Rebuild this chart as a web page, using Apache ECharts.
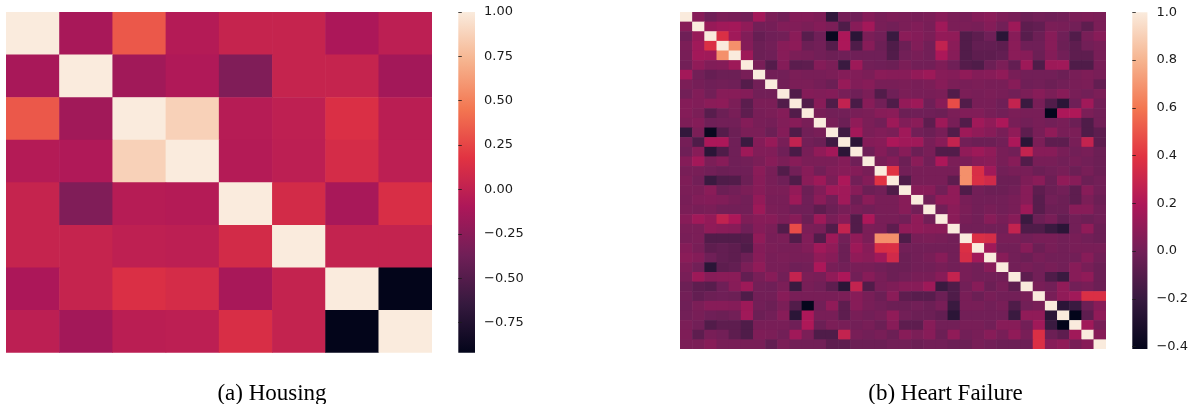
<!DOCTYPE html>
<html>
<head>
<meta charset="utf-8">
<script src="https://cdn.jsdelivr.net/npm/echarts@6/dist/echarts.min.js"></script>
<style>
  html, body { margin: 0; padding: 0; background: #ffffff; }
  #chart { width: 1191px; height: 404px; }
</style>
</head>
<body>
<div id="chart"></div>
<script>
// ---- Housing: full 8x8 feature correlation matrix ----
const housingFeatures = [0, 1, 2, 3, 4, 5, 6, 7];
const housingCorr = [
  [ 1.00, -0.12,  0.33, -0.06,  0.03,  0.03, -0.10, -0.02],
  [-0.12,  1.00, -0.15, -0.08, -0.30,  0.03,  0.03, -0.14],
  [ 0.33, -0.15,  1.00,  0.87, -0.05, -0.01,  0.14, -0.03],
  [-0.06, -0.08,  0.87,  1.00, -0.06, -0.02,  0.11, -0.02],
  [ 0.03, -0.30, -0.05, -0.06,  1.00,  0.10, -0.12,  0.13],
  [ 0.03,  0.03, -0.01, -0.02,  0.10,  1.00,  0.02,  0.02],
  [-0.10,  0.03,  0.14,  0.11, -0.12,  0.02,  1.00, -0.92],
  [-0.02, -0.14, -0.03, -0.02,  0.13,  0.02, -0.92,  1.00]
];
const housingTicks = [1.00, 0.75, 0.50, 0.25, 0.00, -0.25, -0.50, -0.75];

// ---- Heart Failure: 35 features, upper triangle (row i holds columns i+1 .. 34) ----
const heartFeatureCount = 35;
const heartUpper = [
  [0.07,-0.01,0.03,0.02,0.00,0.16,0.03,0.00,0.06,0.06,0.04,-0.22,0.01,-0.01,0.06,0.02,0.04,0.03,0.02,0.03,0.07,0.03,0.02,0.06,0.08,0.04,0.02,-0.02,0.00,-0.01,0.00,0.03,0.04,0.03],
  [0.12,0.15,0.16,0.10,0.00,0.01,0.05,0.05,0.03,0.06,0.03,-0.12,0.07,0.16,0.02,0.00,0.03,0.05,0.02,0.15,0.03,0.03,0.02,0.06,0.00,0.14,-0.07,-0.05,0.03,0.02,0.00,-0.07,0.03],
  [0.37,0.15,0.05,-0.04,-0.01,0.00,0.08,-0.09,-0.01,-0.38,0.19,-0.25,0.03,0.00,-0.19,0.08,0.06,0.03,0.11,0.10,-0.11,-0.07,-0.01,-0.25,0.07,-0.09,-0.02,0.07,-0.01,-0.11,0.02,0.07],
  [0.68,0.06,-0.02,0.00,0.07,0.09,-0.02,0.00,-0.10,0.19,-0.12,0.07,-0.02,-0.12,-0.02,0.05,0.00,0.27,0.08,-0.11,-0.05,-0.05,-0.07,0.08,-0.01,-0.01,0.07,-0.02,-0.07,0.00,0.02],
  [0.14,-0.02,-0.01,0.07,0.03,0.02,0.00,-0.02,-0.01,-0.01,-0.01,-0.01,-0.11,0.00,0.02,0.00,0.19,0.07,-0.11,-0.07,-0.07,-0.05,0.08,0.07,-0.02,0.06,0.00,-0.07,-0.07,0.02],
  [0.02,-0.10,0.06,-0.08,-0.07,0.06,0.03,-0.19,0.14,0.00,-0.01,-0.02,0.03,0.00,0.00,0.04,-0.01,-0.10,-0.12,-0.02,0.03,-0.05,0.14,-0.12,0.14,0.15,-0.12,-0.12,0.02],
  [0.00,0.00,0.03,0.02,0.02,0.03,0.06,0.05,0.03,0.08,0.07,0.07,0.11,0.14,0.07,0.06,0.10,0.06,0.07,0.10,0.02,0.00,0.00,0.00,-0.02,0.02,0.04,0.02],
  [0.00,0.03,0.03,0.01,-0.02,0.12,0.05,0.07,0.02,0.02,0.03,0.02,0.03,0.07,0.03,0.02,0.03,0.02,0.02,0.07,-0.01,0.00,-0.02,0.00,0.02,0.03,-0.05],
  [-0.11,0.06,0.05,0.06,0.02,-0.01,0.03,-0.11,-0.01,0.03,0.02,0.02,0.03,-0.11,0.03,0.02,0.03,0.02,0.00,0.03,0.07,0.03,0.07,0.02,0.00,0.03],
  [-0.11,0.07,-0.12,0.27,-0.14,0.07,0.00,-0.12,0.11,0.14,-0.01,0.07,0.47,-0.11,0.02,0.02,-0.01,0.28,-0.19,0.02,-0.11,-0.25,-0.01,0.15,0.00],
  [0.02,0.00,0.00,0.02,0.03,0.07,0.08,-0.02,-0.01,-0.01,-0.02,0.03,0.05,0.05,0.02,0.00,0.03,0.02,0.02,-0.40,0.19,0.20,0.03,0.00],
  [0.02,-0.02,0.10,0.03,0.00,0.14,0.05,0.08,-0.07,0.14,0.02,-0.11,0.15,0.10,0.19,0.02,0.00,0.02,0.00,0.02,-0.02,-0.12,0.00],
  [-0.17,0.16,0.03,0.05,0.03,0.15,0.00,-0.02,0.02,-0.11,0.14,0.10,0.07,0.02,0.10,-0.07,0.02,0.10,0.02,0.03,-0.12,-0.07],
  [-0.25,0.06,0.07,0.19,0.15,0.15,0.02,0.07,0.28,0.00,-0.02,-0.02,0.00,0.19,-0.25,0.03,-0.07,-0.07,0.02,0.28,-0.07],
  [-0.01,0.06,0.00,0.07,-0.02,0.02,-0.11,-0.11,0.10,0.14,0.10,0.02,0.00,0.28,0.07,0.07,0.02,0.00,0.02,-0.02],
  [0.02,0.06,-0.02,0.08,0.00,0.19,0.03,0.03,0.07,0.08,0.02,0.07,-0.11,0.02,0.02,0.00,0.02,0.00,-0.02],
  [0.39,0.00,0.02,0.02,0.02,0.02,0.68,0.36,0.15,0.00,0.02,0.02,-0.02,0.00,0.02,-0.02,0.02,-0.02],
  [-0.12,0.02,0.02,0.02,-0.07,0.68,0.37,0.33,-0.02,-0.02,0.04,0.08,-0.02,0.10,0.07,-0.02,0.00],
  [0.07,0.07,0.00,0.10,-0.12,0.00,-0.02,-0.02,0.00,0.07,-0.07,-0.02,0.00,-0.07,0.07,0.00],
  [0.00,0.10,0.10,0.02,0.00,0.00,0.00,0.02,0.07,-0.09,0.00,-0.02,-0.07,0.03,-0.02],
  [0.00,0.08,0.03,0.00,0.02,0.00,0.02,0.14,-0.09,-0.02,-0.02,0.07,0.07,0.00],
  [0.08,0.02,0.00,0.07,0.02,0.07,-0.19,-0.02,0.02,-0.05,0.00,-0.02,0.00],
  [0.00,0.00,0.00,0.00,0.28,-0.12,-0.12,-0.19,-0.25,0.00,0.10,-0.02],
  [0.37,0.35,0.02,0.02,0.00,0.02,0.02,0.00,0.02,0.00,-0.02],
  [0.15,0.00,0.00,0.07,-0.02,0.02,0.00,0.02,0.02,0.02],
  [0.07,0.00,-0.02,0.02,0.00,0.00,0.00,0.07,0.00],
  [0.00,0.02,0.00,0.02,0.00,0.07,0.02,-0.02],
  [-0.07,0.00,-0.12,-0.19,0.07,0.10,-0.02],
  [0.02,0.00,0.10,0.00,0.02,-0.02],
  [0.02,0.10,0.15,0.37,0.37],
  [-0.25,-0.19,-0.02,0.07],
  [-0.41,-0.07,0.10],
  [0.15,0.02],
  [0.07]
];
const heartTicks = [1.0, 0.8, 0.6, 0.4, 0.2, 0.0, -0.2, -0.4];

// seaborn "rocket" colormap, evenly spaced stops from low to high
const rocket = ['#03051A', '#35193E', '#701F57', '#AD1759', '#E13342', '#F37651', '#F6B48F', '#FAEBDD'];

// ---- helpers ----
function fullHeartMatrix() {
  const n = heartFeatureCount;
  const m = [];
  for (let i = 0; i < n; i++) { m.push(new Array(n).fill(1)); }
  for (let i = 0; i < n; i++) {
    const row = heartUpper[i] || [];
    for (let k = 0; k < row.length; k++) {
      const j = i + 1 + k;
      m[i][j] = row[k];
      m[j][i] = row[k];
    }
  }
  return m;
}
function toCells(matrix) {
  const cells = [];
  matrix.forEach((row, i) => row.forEach((v, j) => cells.push([j, i, v])));
  return cells;
}
function extent(matrix) {
  const flat = matrix.flat();
  return [Math.min.apply(null, flat), Math.max.apply(null, flat)];
}
function colorbarFill() {
  // top of the bar is the high end of the colormap
  const stops = rocket.slice().reverse().map((c, i, a) => ({ offset: i / (a.length - 1), color: c }));
  return new echarts.graphic.LinearGradient(0, 0, 0, 1, stops);
}
function tickText(v, digits) {
  return v.toFixed(digits).replace('-', '\u2212');
}
// one filled cell per matrix entry, slightly overlapping its neighbours so no seams show
function renderCell(params, api) {
  const p = api.coord([api.value(0), api.value(1)]);
  const s = api.size([1, 1]);
  const w = Math.abs(s[0]);
  const h = Math.abs(s[1]);
  return {
    type: 'rect',
    shape: { x: p[0] - w / 2, y: p[1] - h / 2, width: w + 0.6, height: h + 0.6 },
    style: { fill: api.visual('color') }
  };
}

const heartCorr = fullHeartMatrix();
const housingRange = extent(housingCorr);
const heartRange = extent(heartCorr);
const heartFeatures = Array.from({ length: heartFeatureCount }, (_, i) => i);

const labelFont = { fontFamily: 'DejaVu Sans', fontSize: 13, color: '#1a1a1a' };

function colorbarAxis(gridIndex, range, ticks, digits) {
  return {
    type: 'value', gridIndex: gridIndex, position: 'right',
    min: range[0], max: range[1],
    axisLine: { show: false },
    splitLine: { show: false },
    axisTick: { show: true, length: 3.5, customValues: ticks, lineStyle: { color: '#1a1a1a', width: 0.8 } },
    axisLabel: Object.assign({ show: true, margin: 9, customValues: ticks,
      formatter: v => tickText(v, digits) }, labelFont)
  };
}
function hiddenCategory(gridIndex, data, inverse) {
  return { type: 'category', gridIndex: gridIndex, data: data, inverse: !!inverse, show: false,
           axisLine: { show: false }, axisTick: { show: false }, splitLine: { show: false } };
}

const chart = echarts.init(document.getElementById('chart'), null, { renderer: 'canvas' });
chart.setOption({
  animation: false,
  backgroundColor: '#ffffff',
  grid: [
    { left: 6, top: 12, width: 425.7, height: 340.7 },
    { left: 680, top: 12, width: 425.7, height: 337 },
    { left: 458.3, top: 12, width: 16.7, height: 340.7, show: true, borderWidth: 0, backgroundColor: colorbarFill() },
    { left: 1132.3, top: 12.3, width: 16.7, height: 336.7, show: true, borderWidth: 0, backgroundColor: colorbarFill() }
  ],
  xAxis: [
    hiddenCategory(0, housingFeatures),
    hiddenCategory(1, heartFeatures),
    { type: 'value', gridIndex: 2, show: false },
    { type: 'value', gridIndex: 3, show: false }
  ],
  yAxis: [
    hiddenCategory(0, housingFeatures, true),
    hiddenCategory(1, heartFeatures, true),
    colorbarAxis(2, housingRange, housingTicks, 2),
    colorbarAxis(3, heartRange, heartTicks, 1)
  ],
  visualMap: [
    { show: false, type: 'continuous', seriesIndex: 0, dimension: 2, min: housingRange[0], max: housingRange[1], inRange: { color: rocket } },
    { show: false, type: 'continuous', seriesIndex: 1, dimension: 2, min: heartRange[0], max: heartRange[1], inRange: { color: rocket } }
  ],
  series: [
    { name: 'Housing', type: 'custom', xAxisIndex: 0, yAxisIndex: 0, data: toCells(housingCorr),
      encode: { x: 0, y: 1 }, renderItem: renderCell, clip: true, silent: true },
    { name: 'Heart Failure', type: 'custom', xAxisIndex: 1, yAxisIndex: 1, data: toCells(heartCorr),
      encode: { x: 0, y: 1 }, renderItem: renderCell, clip: true, silent: true }
  ],
  graphic: [
    { type: 'text', x: 272, y: 393.5, silent: true,
      style: { text: '(a) Housing', fontFamily: 'Liberation Serif', fontSize: 23, fill: '#000', align: 'center', verticalAlign: 'middle' } },
    { type: 'text', x: 945.5, y: 393.5, silent: true,
      style: { text: '(b) Heart Failure', fontFamily: 'Liberation Serif', fontSize: 23, fill: '#000', align: 'center', verticalAlign: 'middle' } }
  ]
});
</script>
</body>
</html>
